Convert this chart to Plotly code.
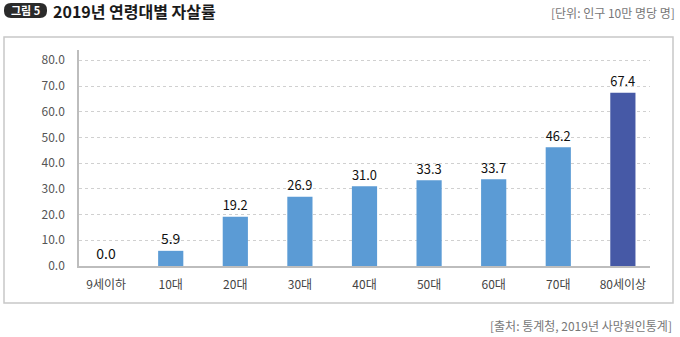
import plotly.graph_objects as go

categories = ["9세이하", "10대", "20대", "30대", "40대", "50대", "60대", "70대", "80세이상"]
values = [0.0, 5.9, 19.2, 26.9, 31.0, 33.3, 33.7, 46.2, 67.4]
bar_colors = ["#5b9bd5"] * 8 + ["#4659a6"]
y_ticks = [0, 10, 20, 30, 40, 50, 60, 70, 80]
y_tick_labels = ["0.0", "10.0", "20.0", "30.0", "40.0", "50.0", "60.0", "70.0", "80.0"]

W, H = 680, 337
L, R, T, B = 79, 650, 50, 266
FONT = "Noto Sans CJK KR"

def px(x):
    return (x - L) / (R - L)

def py(y):
    return (B - y) / (B - T)

fig = go.Figure()
fig.add_trace(go.Bar(
    x=categories, y=values,
    marker=dict(color=bar_colors, line=dict(width=0)),
    width=0.39,
    text=[f"{v:.1f}" for v in values],
    textposition="outside",
    textfont=dict(family=FONT, size=14, color="#111111"),
    cliponaxis=False,
))

def rounded(x0, y0, x1, y1, r):
    X = lambda v: px(v)
    Y = lambda v: py(v)
    return (f"M {X(x0+r)},{Y(y0)} L {X(x1-r)},{Y(y0)} Q {X(x1)},{Y(y0)} {X(x1)},{Y(y0+r)} "
            f"L {X(x1)},{Y(y1-r)} Q {X(x1)},{Y(y1)} {X(x1-r)},{Y(y1)} "
            f"L {X(x0+r)},{Y(y1)} Q {X(x0)},{Y(y1)} {X(x0)},{Y(y1-r)} "
            f"L {X(x0)},{Y(y0+r)} Q {X(x0)},{Y(y0)} {X(x0+r)},{Y(y0)} Z")

shapes = [
    dict(type="rect", xref="paper", yref="paper",
         x0=px(4), x1=px(673), y0=py(303), y1=py(37),
         line=dict(color="#c8c8c8", width=1.5), fillcolor="rgba(0,0,0,0)", layer="below"),
    dict(type="path", xref="paper", yref="paper",
         path=rounded(4, 3, 47, 18, 7),
         fillcolor="#2b2b2b", line=dict(width=0)),
]

annotations = [
    dict(text="<b>그림 5</b>", x=px(25.5), y=py(10.5), xref="paper", yref="paper",
         xanchor="center", yanchor="middle", showarrow=False,
         font=dict(family=FONT, size=11, color="white")),
    dict(text="<b>2019년 연령대별 자살률</b>", x=px(51), y=py(11), xref="paper", yref="paper",
         xanchor="left", yanchor="middle", showarrow=False,
         font=dict(family=FONT, size=16, color="#1a1a1a")),
    dict(text="[단위: 인구 10만 명당 명]", x=px(677), y=py(12), xref="paper", yref="paper",
         xanchor="right", yanchor="middle", showarrow=False,
         font=dict(family=FONT, size=12, color="#777777")),
    dict(text="[출처: 통계청, 2019년 사망원인통계]", x=px(674), y=py(325), xref="paper", yref="paper",
         xanchor="right", yanchor="middle", showarrow=False,
         font=dict(family=FONT, size=12, color="#777777")),
]

fig.update_layout(
    width=W, height=H,
    margin=dict(l=L, r=W - R, t=T, b=H - B, pad=0),
    paper_bgcolor="white", plot_bgcolor="white",
    showlegend=False,
    shapes=shapes, annotations=annotations,
    font=dict(family=FONT),
    xaxis=dict(
        range=[-0.42, 8.42],
        showline=True, linecolor="#bdbdbd", linewidth=1.5,
        showgrid=False, ticks="", ticklabelstandoff=7,
        tickfont=dict(family=FONT, size=12, color="#444444"),
        fixedrange=True,
    ),
    yaxis=dict(
        range=[0, 84],
        tickvals=y_ticks, ticktext=y_tick_labels,
        showline=True, linecolor="#bdbdbd", linewidth=1.5,
        showgrid=True, gridcolor="#d0d0d0", griddash="dot", gridwidth=1,
        zeroline=False, ticks="", ticklabelstandoff=10,
        tickfont=dict(family=FONT, size=12, color="#555555"),
        fixedrange=True,
    ),
)

fig.write_html("out.html")
